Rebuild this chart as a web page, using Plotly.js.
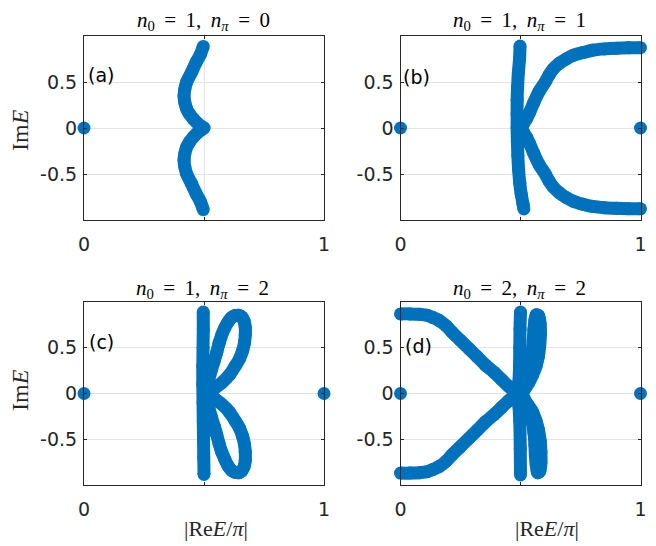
<!DOCTYPE html>
<html>
<head>
<meta charset="utf-8">
<script src="https://cdn.plot.ly/plotly-3.0.1.min.js"></script>
<style>
  html, body { margin: 0; padding: 0; background: #fff; }
  #chart { width: 656px; height: 546px; }
</style>
</head>
<body>
<div id="chart"></div>
<script>
/* ---- data: x = |Re E / pi|, y = Im E ---- */

/* (a) n0 = 1, npi = 0 */
var aUpX = [0.497, 0.485, 0.467, 0.447, 0.428, 0.420, 0.417, 0.420, 0.428, 0.440, 0.455, 0.470, 0.483, 0.493, 0.500];
var aUpY = [0.887, 0.800, 0.713, 0.600, 0.500, 0.420, 0.350, 0.280, 0.207, 0.150, 0.100, 0.060, 0.030, 0.012, 0.000];
var aLoX = [0.500, 0.493, 0.483, 0.470, 0.455, 0.440, 0.428, 0.420, 0.417, 0.420, 0.428, 0.447, 0.467, 0.485, 0.497];
var aLoY = [0.000, -0.012, -0.030, -0.060, -0.100, -0.150, -0.207, -0.280, -0.350, -0.420, -0.500, -0.600, -0.713, -0.800, -0.887];
var aPtX = [0];
var aPtY = [0];

/* (b) n0 = 1, npi = 1 */
var bVX = [0.498, 0.496, 0.491, 0.488, 0.486, 0.486, 0.486, 0.487, 0.489, 0.492, 0.497, 0.503, 0.510, 0.514];
var bVY = [0.890, 0.750, 0.600, 0.450, 0.300, 0.150, 0.000, -0.150, -0.300, -0.450, -0.600, -0.720, -0.820, -0.880];
var bUpX = [0.500, 0.513, 0.525, 0.538, 0.556, 0.578, 0.603, 0.620, 0.636, 0.660, 0.690, 0.720, 0.760, 0.800, 0.850, 0.900, 0.950, 1.000];
var bUpY = [0.000, 0.050, 0.100, 0.170, 0.280, 0.400, 0.500, 0.580, 0.640, 0.700, 0.750, 0.790, 0.820, 0.845, 0.860, 0.868, 0.872, 0.873];
var bLoX = [0.500, 0.513, 0.525, 0.538, 0.556, 0.578, 0.603, 0.620, 0.636, 0.660, 0.690, 0.720, 0.760, 0.800, 0.850, 0.900, 0.950, 1.000];
var bLoY = [0.000, -0.050, -0.100, -0.170, -0.280, -0.400, -0.500, -0.580, -0.640, -0.700, -0.755, -0.795, -0.828, -0.852, -0.866, -0.873, -0.877, -0.878];
var bPtX = [0, 1];
var bPtY = [0, 0];

/* (c) n0 = 1, npi = 2 */
var cVX = [0.497, 0.497, 0.496, 0.495, 0.495, 0.496, 0.497, 0.498, 0.499, 0.500];
var cVY = [0.890, 0.700, 0.500, 0.300, 0.100, -0.100, -0.300, -0.500, -0.700, -0.885];
var cUpX = [0.500, 0.510, 0.520, 0.530, 0.543, 0.553, 0.563, 0.574, 0.587, 0.600, 0.615, 0.630, 0.645, 0.658, 0.667, 0.672, 0.672, 0.669, 0.661, 0.648, 0.630, 0.605, 0.575, 0.545, 0.520, 0.500];
var cUpY = [0.000, 0.080, 0.160, 0.250, 0.360, 0.450, 0.550, 0.640, 0.720, 0.780, 0.830, 0.852, 0.855, 0.835, 0.790, 0.720, 0.640, 0.560, 0.470, 0.380, 0.300, 0.200, 0.120, 0.060, 0.020, 0.000];
var cLoX = [0.500, 0.510, 0.520, 0.530, 0.543, 0.553, 0.563, 0.574, 0.587, 0.600, 0.615, 0.630, 0.645, 0.658, 0.667, 0.672, 0.672, 0.669, 0.661, 0.648, 0.630, 0.605, 0.575, 0.545, 0.520, 0.500];
var cLoY = [0.000, -0.080, -0.160, -0.250, -0.360, -0.450, -0.550, -0.640, -0.720, -0.790, -0.840, -0.862, -0.865, -0.845, -0.800, -0.730, -0.640, -0.560, -0.470, -0.380, -0.300, -0.200, -0.120, -0.060, -0.020, 0.000];
var cPtX = [0, 1];
var cPtY = [0, 0];

/* (d) n0 = 2, npi = 2 */
var dULX = [0.000, 0.040, 0.080, 0.110, 0.135, 0.160, 0.190, 0.215, 0.250, 0.285, 0.320, 0.354, 0.390, 0.424, 0.450, 0.470, 0.485];
var dULY = [0.870, 0.870, 0.865, 0.855, 0.830, 0.800, 0.740, 0.670, 0.580, 0.490, 0.400, 0.310, 0.230, 0.145, 0.080, 0.035, 0.000];
var dLLX = [0.000, 0.040, 0.080, 0.110, 0.135, 0.160, 0.190, 0.215, 0.250, 0.285, 0.320, 0.354, 0.390, 0.424, 0.450, 0.470, 0.485];
var dLLY = [-0.870, -0.870, -0.865, -0.855, -0.830, -0.800, -0.740, -0.670, -0.580, -0.490, -0.400, -0.310, -0.230, -0.145, -0.080, -0.035, 0.000];
var dVX = [0.500, 0.498, 0.497, 0.496, 0.494, 0.492, 0.494, 0.497, 0.499, 0.500];
var dVY = [0.890, 0.700, 0.500, 0.300, 0.150, 0.000, -0.150, -0.300, -0.600, -0.890];
var dUpX = [0.505, 0.518, 0.530, 0.540, 0.548, 0.553, 0.556, 0.560, 0.566, 0.575, 0.582, 0.583, 0.580, 0.574, 0.565, 0.550, 0.535, 0.518, 0.505];
var dUpY = [0.000, 0.100, 0.200, 0.320, 0.450, 0.580, 0.700, 0.800, 0.860, 0.850, 0.760, 0.650, 0.520, 0.400, 0.300, 0.200, 0.120, 0.050, 0.000];
var dLoX = [0.505, 0.520, 0.535, 0.548, 0.556, 0.560, 0.562, 0.566, 0.572, 0.580, 0.585, 0.585, 0.582, 0.575, 0.565, 0.550, 0.530, 0.512, 0.500];
var dLoY = [0.000, -0.080, -0.180, -0.300, -0.430, -0.560, -0.680, -0.790, -0.865, -0.850, -0.760, -0.640, -0.520, -0.400, -0.300, -0.200, -0.120, -0.050, 0.000];
var dPtX = [0, 1];
var dPtY = [0, 0];

/* tick labels (0.5 on x gets a grid line and tick only) */
var xTickVals = [0, 1];
var xTickText = ['0', '1'];
var xMinorVals = [0.5];
var yTickVals = [-0.5, 0, 0.5];
var yTickText = ['-0.5', '0', '0.5'];

const BLUE = '#0072BD';
const AXC = '#262626';
const GRID = '#e3e3e3';
const SANS = 'DejaVu Sans, Liberation Sans, Arial, sans-serif';
const SERIF = 'Liberation Serif, Times New Roman, serif';
const DOT = 13;

/* one chain of dots drawn as a fat line with dots on top */
function curve(xs, ys, ax) {
    var s = ax == 1 ? '' : ax;
    return {
        x: xs, y: ys, xaxis: 'x' + s, yaxis: 'y' + s,
        type: 'scatter', mode: 'lines+markers',
        line: {color: BLUE, width: DOT, shape: 'spline', smoothing: 1},
        marker: {color: BLUE, size: DOT},
        cliponaxis: false, showlegend: false, hoverinfo: 'skip'
    };
}

function dots(xs, ys, ax) {
    var t = curve(xs, ys, ax);
    t.mode = 'markers';
    return t;
}

var traces = [
    curve(aUpX, aUpY, 1), curve(aLoX, aLoY, 1), dots(aPtX, aPtY, 1),
    curve(bVX, bVY, 2), curve(bUpX, bUpY, 2), curve(bLoX, bLoY, 2), dots(bPtX, bPtY, 2),
    curve(cVX, cVY, 3), curve(cUpX, cUpY, 3), curve(cLoX, cLoY, 3), dots(cPtX, cPtY, 3),
    curve(dULX, dULY, 4), curve(dLLX, dLLY, 4), curve(dVX, dVY, 4),
    curve(dUpX, dUpY, 4), curve(dLoX, dLoY, 4), dots(dPtX, dPtY, 4)
];

function xAxis(domain, anchor) {
    return {
        domain: domain, anchor: anchor, range: [0, 1], fixedrange: true,
        tickmode: 'array', tickvals: xTickVals, ticktext: xTickText,
        ticks: 'inside', ticklen: 3, tickcolor: AXC, ticklabelstandoff: 7,
        minor: {tickmode: 'array', tickvals: xMinorVals, ticks: 'inside', ticklen: 3,
                tickcolor: AXC, showgrid: true, gridcolor: GRID},
        showline: true, mirror: 'ticks', linecolor: AXC, linewidth: 1,
        showgrid: false, zeroline: false,
        tickfont: {family: SANS, size: 19, color: AXC}
    };
}

function yAxis(domain, anchor) {
    return {
        domain: domain, anchor: anchor, range: [-1, 1], fixedrange: true,
        tickmode: 'array', tickvals: yTickVals, ticktext: yTickText,
        ticks: 'inside', ticklen: 3, tickcolor: AXC, ticklabelstandoff: 2,
        showline: true, mirror: 'ticks', linecolor: AXC, linewidth: 1,
        showgrid: true, gridcolor: GRID, zeroline: false,
        tickfont: {family: SANS, size: 19, color: AXC}
    };
}

var colL = [84 / 656, 324 / 656];
var colR = [400.5 / 656, 640.5 / 656];
var rowT = [1 - 220 / 546, 1 - 36 / 546];
var rowB = [1 - 485 / 546, 1 - 302 / 546];

function title(txt, x, y) {
    return {text: txt, xref: 'paper', yref: 'paper', x: x, y: y,
            xanchor: 'center', yanchor: 'middle', showarrow: false,
            font: {family: SERIF, size: 21, color: '#000'}};
}

function tag(txt, ax, x, y) {
    var s = ax == 1 ? '' : ax;
    return {text: txt, xref: 'x' + s, yref: 'y' + s, x: x, y: y,
            xanchor: 'left', yanchor: 'middle', showarrow: false,
            font: {family: SANS, size: 19, color: '#000'}};
}

function nTitle(n0, npi) {
    return '<i>n</i><sub>0</sub> \u2009=\u2009 ' + n0 + ', \u2009<i>n</i><sub><i>π</i></sub> \u2009=\u2009 ' + npi;
}

var annotations = [
    title(nTitle(1, 0), 203 / 656, 1 - 21 / 546),
    title(nTitle(1, 1), 519 / 656, 1 - 21 / 546),
    title(nTitle(1, 2), 202 / 656, 1 - 289 / 546),
    title(nTitle(2, 2), 519 / 656, 1 - 289 / 546),
    tag('(a)', 1, 0.010, 0.58),
    tag('(b)', 2, 0.004, 0.55),
    tag('(c)', 3, 0.014, 0.56),
    tag('(d)', 4, 0.010, 0.52),
    /* axis labels */
    {text: 'Im<i>E</i>', xref: 'paper', yref: 'paper', x: 20 / 656, y: 1 - 130 / 546,
     textangle: -90, xanchor: 'center', yanchor: 'middle', showarrow: false,
     font: {family: SERIF, size: 24, color: AXC}},
    {text: 'Im<i>E</i>', xref: 'paper', yref: 'paper', x: 20 / 656, y: 1 - 390 / 546,
     textangle: -90, xanchor: 'center', yanchor: 'middle', showarrow: false,
     font: {family: SERIF, size: 24, color: AXC}},
    {text: '|Re<i>E</i>/<i>π</i>|', xref: 'paper', yref: 'paper', x: 215.5 / 656, y: 1 - 528 / 546,
     xanchor: 'center', yanchor: 'middle', showarrow: false,
     font: {family: SERIF, size: 22, color: AXC}},
    {text: '|Re<i>E</i>/<i>π</i>|', xref: 'paper', yref: 'paper', x: 546.5 / 656, y: 1 - 528 / 546,
     xanchor: 'center', yanchor: 'middle', showarrow: false,
     font: {family: SERIF, size: 22, color: AXC}}
];

var layout = {
    width: 656, height: 546,
    margin: {l: 0, r: 0, t: 0, b: 0},
    paper_bgcolor: '#fff', plot_bgcolor: '#fff',
    showlegend: false,
    xaxis: xAxis(colL, 'y'), yaxis: yAxis(rowT, 'x'),
    xaxis2: xAxis(colR, 'y2'), yaxis2: yAxis(rowT, 'x2'),
    xaxis3: xAxis(colL, 'y3'), yaxis3: yAxis(rowB, 'x3'),
    xaxis4: xAxis(colR, 'y4'), yaxis4: yAxis(rowB, 'x4'),
    annotations: annotations
};

Plotly.newPlot('chart', traces, layout, {staticPlot: true, displayModeBar: false});
</script>
</body>
</html>
